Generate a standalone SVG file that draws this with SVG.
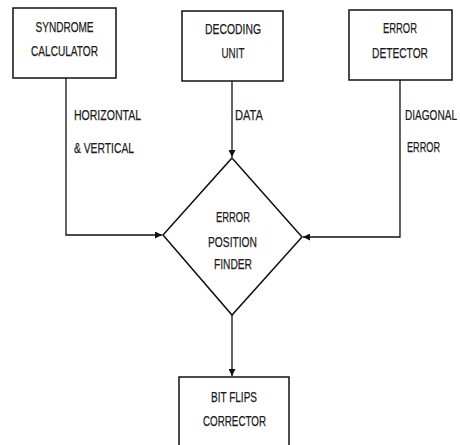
<svg xmlns="http://www.w3.org/2000/svg" width="460" height="445" viewBox="0 0 460 445">
  <style>
    .box { fill: #ffffff; stroke: #111; stroke-width: 1.5; }
    .wire { fill: none; stroke: #111; stroke-width: 1.3; }
    text { font-family: "Liberation Sans", Arial, sans-serif; font-size: 14.5px; fill: #1c1c1c; stroke: #1c1c1c; stroke-width: 0.25; text-anchor: middle; }
    .lbl { text-anchor: start; }
  </style>
  <defs>
    <marker id="arrow" viewBox="0 0 10 10" refX="10" refY="5" markerWidth="7" markerHeight="7" markerUnits="userSpaceOnUse" orient="auto">
      <path d="M0,0 L10,5 L0,10 Z" fill="#111"/>
    </marker>
  </defs>
  <rect width="460" height="445" fill="#ffffff"/>

  <g id="connectors">
    <polyline class="wire" points="66,78 66,235 162,235" marker-end="url(#arrow)"/>
    <line class="wire" x1="232" y1="81" x2="232" y2="157" marker-end="url(#arrow)"/>
    <polyline class="wire" points="400,80 400,237 303,237" marker-end="url(#arrow)"/>
    <line class="wire" x1="232" y1="315" x2="232" y2="376" marker-end="url(#arrow)"/>
    <text class="lbl" x="74" y="120" textLength="67" lengthAdjust="spacingAndGlyphs">HORIZONTAL</text>
    <text class="lbl" x="74" y="153" textLength="60" lengthAdjust="spacingAndGlyphs">&amp; VERTICAL</text>
    <text class="lbl" x="235" y="120" textLength="28" lengthAdjust="spacingAndGlyphs">DATA</text>
    <!-- narrowed with a scale so it stays inside the right edge -->
    <text class="lbl" transform="translate(405,120) scale(0.695,1)" x="0" y="0">DIAGONAL</text>
    <text class="lbl" x="407" y="152" textLength="33" lengthAdjust="spacingAndGlyphs">ERROR</text>
  </g>

  <g id="syndrome-calculator">
    <rect class="box" x="13" y="8" width="103" height="70"/>
    <text x="64.5" y="32" textLength="58" lengthAdjust="spacingAndGlyphs">SYNDROME</text>
    <text x="64.5" y="56" textLength="67" lengthAdjust="spacingAndGlyphs">CALCULATOR</text>
  </g>

  <g id="decoding-unit">
    <rect class="box" x="182" y="11" width="101" height="70"/>
    <text x="233" y="34" textLength="56" lengthAdjust="spacingAndGlyphs">DECODING</text>
    <text x="233" y="58" textLength="23" lengthAdjust="spacingAndGlyphs">UNIT</text>
  </g>

  <g id="error-detector">
    <rect class="box" x="349" y="10" width="103" height="70"/>
    <text x="400" y="33" textLength="34" lengthAdjust="spacingAndGlyphs">ERROR</text>
    <text x="400" y="58" textLength="56" lengthAdjust="spacingAndGlyphs">DETECTOR</text>
  </g>

  <g id="error-position-finder">
    <polygon class="box" points="232,158 302,237 232,315 163,235"/>
    <text x="233" y="222" textLength="34" lengthAdjust="spacingAndGlyphs">ERROR</text>
    <text x="232.5" y="247" textLength="49" lengthAdjust="spacingAndGlyphs">POSITION</text>
    <text x="233" y="269" textLength="38" lengthAdjust="spacingAndGlyphs">FINDER</text>
  </g>

  <g id="bit-flips-corrector">
    <rect class="box" x="179" y="377" width="110" height="80"/>
    <text x="234" y="402" textLength="46" lengthAdjust="spacingAndGlyphs">BIT FLIPS</text>
    <text x="234.5" y="426" textLength="63" lengthAdjust="spacingAndGlyphs">CORRECTOR</text>
  </g>
</svg>
